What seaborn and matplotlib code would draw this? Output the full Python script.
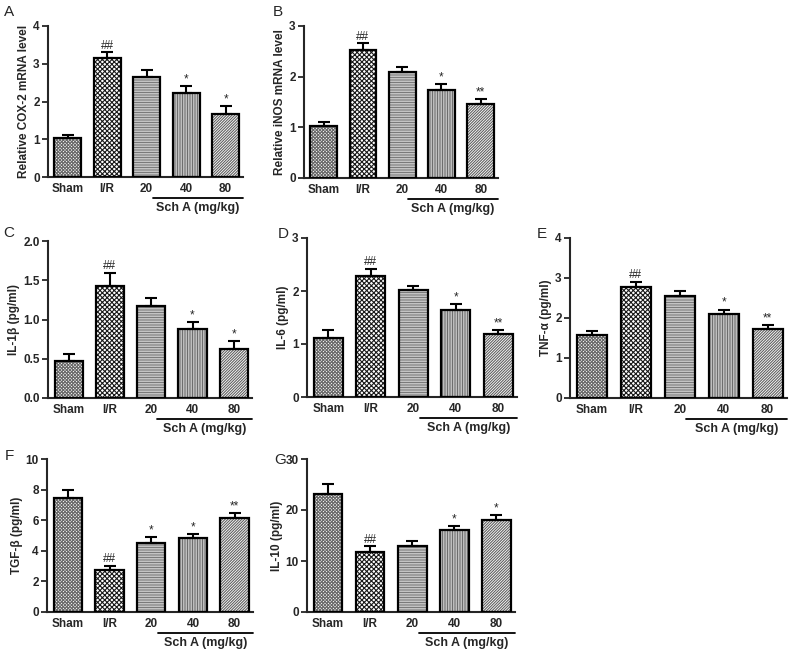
import matplotlib
matplotlib.use("Agg")
import matplotlib.pyplot as plt
import seaborn as sns
import numpy as np
import pandas as pd

sns.set_style("ticks")
plt.rcParams['font.family'] = ['Liberation Sans', 'DejaVu Sans']
plt.rcParams['hatch.linewidth'] = 0.8

groups = ["Sham", "I/R", "20", "40", "80"]

cox2_mean = [1.02, 3.14, 2.64, 2.23, 1.66]
cox2_err = [0.10, 0.16, 0.19, 0.19, 0.23]
inos_mean = [1.02, 2.53, 2.09, 1.73, 1.46]
inos_err = [0.08, 0.13, 0.10, 0.13, 0.10]
il1b_mean = [0.47, 1.43, 1.17, 0.88, 0.63]
il1b_err = [0.09, 0.16, 0.10, 0.09, 0.10]
il6_mean = [1.11, 2.29, 2.02, 1.65, 1.19]
il6_err = [0.16, 0.13, 0.07, 0.10, 0.08]
tnfa_mean = [1.57, 2.78, 2.56, 2.09, 1.72]
tnfa_err = [0.10, 0.12, 0.12, 0.12, 0.10]
tgfb_mean = [7.45, 2.77, 4.51, 4.84, 6.17]
tgfb_err = [0.50, 0.26, 0.39, 0.26, 0.30]
il10_mean = [23.1, 11.8, 12.9, 16.1, 18.1]
il10_err = [2.0, 1.1, 1.1, 0.8, 0.9]

cox2_sig = ["", "##", "", "*", "*"]
inos_sig = ["", "##", "", "*", "**"]
il1b_sig = ["", "##", "", "*", "*"]
il6_sig = ["", "##", "", "*", "**"]
tnfa_sig = ["", "##", "", "*", "**"]
tgfb_sig = ["", "##", "*", "*", "**"]
il10_sig = ["", "##", "", "*", "*"]

W, H = 790, 655
fig = plt.figure(figsize=(W / 100, H / 100), dpi=100)

hatches = ["xxxxxxxxxx", "xxxxxxx", "----------", "||||||||||", "////////////"]
hatch_colors = ["#6a6a6a", "#1a1a1a", "#7a7a7a", "#6e6e6e", "#606060"]

panels = [
    ("A", cox2_mean, cox2_err, cox2_sig, "Relative COX-2 mRNA level", 4, [0, 1, 2, 3, 4], "{:.0f}", (48, 26, 243, 177), (9, 12)),
    ("B", inos_mean, inos_err, inos_sig, "Relative iNOS mRNA level", 3, [0, 1, 2, 3], "{:.0f}", (304, 26, 498, 178), (278, 12)),
    ("C", il1b_mean, il1b_err, il1b_sig, "IL-1β (pg/ml)", 2.0, [0, 0.5, 1.0, 1.5, 2.0], "{:.1f}", (48, 241, 252, 398), (9, 233)),
    ("D", il6_mean, il6_err, il6_sig, "IL-6 (pg/ml)", 3, [0, 1, 2, 3], "{:.0f}", (307, 238, 517, 397), (283, 234)),
    ("E", tnfa_mean, tnfa_err, tnfa_sig, "TNF-α (pg/ml)", 4, [0, 1, 2, 3, 4], "{:.0f}", (570, 238, 787, 398), (542, 234)),
    ("F", tgfb_mean, tgfb_err, tgfb_sig, "TGF-β (pg/ml)", 10, [0, 2, 4, 6, 8, 10], "{:.0f}", (47, 459, 253, 612), (9, 456)),
    ("G", il10_mean, il10_err, il10_sig, "IL-10 (pg/ml)", 30, [0, 10, 20, 30], "{:.0f}", (307, 459, 515, 612), (280, 460)),
]

for letter, means, errs, sig, ylab, ymax, yt, fmt, (l, t, r, b), (lx, ly) in panels:
    ax = fig.add_axes([l / W, 1 - b / H, (r - l) / W, (b - t) / H])
    df = pd.DataFrame({"group": groups, "value": means})
    sns.barplot(data=df, x="group", y="value", order=groups, color="white",
                width=0.68, linewidth=0, errorbar=None, ax=ax, zorder=2)
    for p, h, hc in zip(ax.patches, hatches, hatch_colors):
        p.set_hatch(h)
        p.set_edgecolor(hc)
        p.set_facecolor("white")
        p.set_linewidth(0)
    sns.barplot(data=df, x="group", y="value", order=groups, fill=False,
                color="black", width=0.68, linewidth=1.6, errorbar=None, ax=ax, zorder=3)
    for p in ax.patches[5:]:
        p.set_edgecolor("black")
        p.set_facecolor("none")
        p.set_linewidth(1.6)
    xs = np.arange(len(groups))
    ax.errorbar(xs, means, yerr=[np.zeros(len(errs)), errs], fmt="none",
                ecolor="black", elinewidth=1.5, capsize=4.3, capthick=1.5, zorder=4)
    for x, m, e, s in zip(xs, means, errs, sig):
        if s:
            ax.annotate(s, xy=(x, m + e), xytext=(0, 0.5), textcoords="offset points",
                        ha="center", va="bottom", fontsize=8.5, zorder=5)
    ax.set_xlim(-0.5, 4.44)
    ax.set_ylim(0, ymax)
    ax.set_yticks(yt)
    ax.set_yticklabels([fmt.format(v) for v in yt], fontsize=8.5, fontweight="bold")
    ax.set_xticks(xs)
    ax.set_xticklabels(groups, fontsize=8.5, fontweight="bold")
    ax.tick_params(axis="x", length=0, pad=4)
    ax.tick_params(axis="y", length=4, width=1.3, pad=2)
    ax.set_xlabel("")
    ax.set_ylabel(ylab, fontsize=8.5, fontweight="bold", labelpad=2)
    for sp in ["top", "right"]:
        ax.spines[sp].set_visible(False)
    for sp in ["left", "bottom"]:
        ax.spines[sp].set_linewidth(1.5)
    hpx = b - t
    trans = ax.get_xaxis_transform()
    ax.plot([2.15, 4.44], [-21 / hpx, -21 / hpx], color="black", lw=1.3,
            transform=trans, clip_on=False)
    ax.text((2.15 + 4.44) / 2, -31 / hpx, "Sch A (mg/kg)", transform=trans,
            ha="center", va="center", fontsize=9, fontweight="bold")
    fig.text(lx / W, 1 - ly / H, letter, ha="center", va="center", fontsize=11)

fig.savefig("out.png", dpi=100)
